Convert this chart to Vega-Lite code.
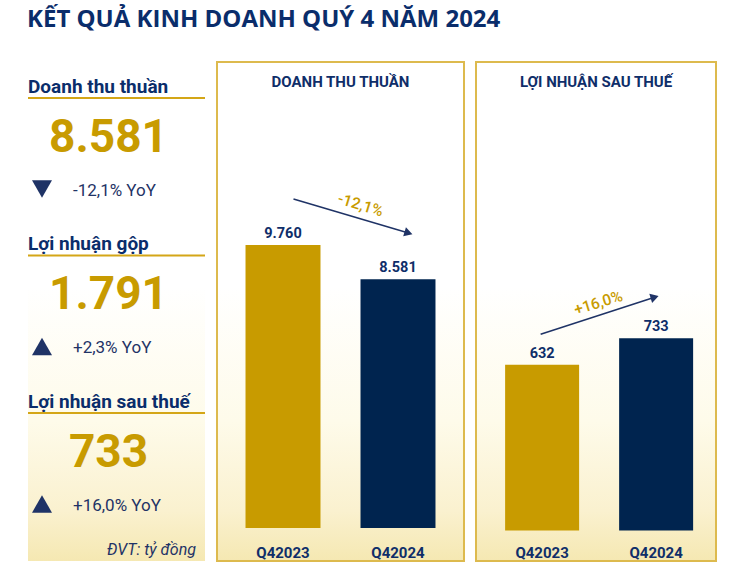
{
  "$schema": "https://vega.github.io/schema/vega-lite/v6.json",
  "background": "#ffffff",
  "padding": {"left": 27, "top": 8, "right": 0, "bottom": 0},
  "bounds": "flush",
  "spacing": 12,
  "title": {
    "text": "KẾT QUẢ KINH DOANH QUÝ 4 NĂM 2024",
    "anchor": "start",
    "font": "Open Sans",
    "fontSize": 24,
    "fontWeight": "bold",
    "color": "#0A2D6B",
    "offset": 29
  },
  "datasets": {
    "metrics": [
      {"metric": "Doanh thu thuần", "value": 8581, "yoy": "-12,1% YoY", "dir": "down"},
      {"metric": "Lợi nhuận gộp", "value": 1791, "yoy": "+2,3% YoY", "dir": "up"},
      {"metric": "Lợi nhuận sau thuế", "value": 733, "yoy": "+16,0% YoY", "dir": "up"}
    ],
    "note": [{"metric": "Lợi nhuận sau thuế", "note": "ĐVT: tỷ đồng"}],
    "revenue": [{"quarter": "Q42023", "value": 9760}, {"quarter": "Q42024", "value": 8581}],
    "profit": [{"quarter": "Q42023", "value": 632}, {"quarter": "Q42024", "value": 733}],
    "revenueArrow": [{"quarter": "Q42023", "y": 11345}, {"quarter": "Q42024", "y": 10172}],
    "profitArrow": [{"quarter": "Q42023", "y": 748}, {"quarter": "Q42024", "y": 889}],
    "revenueChange": [{"quarter": "Q42024", "y": 11138, "change": "-12,1%"}],
    "profitChange": [{"quarter": "Q42023", "y": 867, "change": "+16,0%"}]
  },
  "hconcat": [
    {
      "width": 177,
      "height": 499,
      "view": {
        "stroke": null,
        "fill": {"gradient": "linear", "x1": 0, "y1": 0, "x2": 0, "y2": 1, "stops": [{"offset": 0, "color": "#ffffff"}, {"offset": 0.45, "color": "#ffffff"}, {"offset": 0.72, "color": "#fefbea"}, {"offset": 0.9, "color": "#faf1cf"}, {"offset": 1, "color": "#f5e8b2"}]}
      },
      "data": {"name": "metrics"},
      "encoding": {
        "y": {"field": "metric", "type": "nominal", "sort": null, "axis": null,
          "scale": {"type": "point", "padding": 0.584, "align": 0.413, "domain": ["Doanh thu thuần", "Lợi nhuận gộp", "Lợi nhuận sau thuế"]}}
      },
      "layer": [
        {"mark": {"type": "rule", "color": "#D4A617", "strokeWidth": 2, "yOffset": -40}, "encoding": {}},
        {"mark": {"type": "text", "align": "left", "baseline": "middle", "dx": -88.5, "dy": -51, "font": "Roboto", "fontSize": 19, "fontWeight": "bold", "color": "#0A2D6B"},
          "encoding": {"text": {"field": "metric", "type": "nominal"}}},
        {"mark": {"type": "text", "align": "center", "baseline": "middle", "dx": -8, "font": "Roboto", "fontSize": 46, "fontWeight": "bold", "color": "#C89B00"},
          "encoding": {"text": {"field": "value", "type": "quantitative", "format": ",d"}}},
        {"mark": {"type": "point", "filled": true, "size": 400, "opacity": 1, "color": "#1F3366", "xOffset": -74.5, "yOffset": 51},
          "encoding": {"shape": {"field": "dir", "type": "nominal", "scale": {"domain": ["down", "up"], "range": ["triangle-down", "triangle-up"]}, "legend": null}}},
        {"mark": {"type": "text", "align": "left", "baseline": "middle", "dx": -43.5, "dy": 53, "font": "Roboto", "fontSize": 17, "color": "#1F3366"},
          "encoding": {"text": {"field": "yoy", "type": "nominal"}}},
        {"data": {"name": "note"},
          "mark": {"type": "text", "align": "right", "baseline": "middle", "dx": 79.5, "dy": 97, "font": "Roboto", "fontSize": 16, "fontStyle": "italic", "color": "#1F3366"},
          "encoding": {"text": {"field": "note", "type": "nominal"}}}
      ]
    },
    {
      "width": 247,
      "height": 499,
      "view": {
        "stroke": "#DDBA4E", "strokeWidth": 2,
        "fill": {"gradient": "linear", "x1": 0, "y1": 0, "x2": 0, "y2": 1, "stops": [{"offset": 0, "color": "#ffffff"}, {"offset": 0.45, "color": "#ffffff"}, {"offset": 0.72, "color": "#fefbea"}, {"offset": 0.9, "color": "#faf1cf"}, {"offset": 1, "color": "#f5e8b2"}]}
      },
      "title": {"text": "DOANH THU THUẦN", "font": "Roboto", "fontSize": 15, "fontWeight": "bold", "color": "#0F2E69", "offset": -28},
      "layer": [
        {"data": {"name": "revenue"}, "mark": {"type": "bar"},
          "encoding": {
            "x": {"field": "quarter", "type": "nominal", "scale": {"domain": ["Q42023", "Q42024"], "paddingInner": 0.348, "paddingOuter": 0.248},
              "axis": {"title": null, "domain": false, "ticks": false, "grid": false, "labelAngle": 0, "labelFont": "Roboto", "labelFontSize": 15, "labelFontWeight": "bold", "labelColor": "#0F2E69", "labelPadding": -16}},
            "y": {"field": "value", "type": "quantitative", "scale": {"domain": [-1138, 16070], "nice": false, "zero": false}, "axis": null},
            "y2": {"datum": 0},
            "color": {"field": "quarter", "type": "nominal", "scale": {"domain": ["Q42023", "Q42024"], "range": ["#C89B00", "#00244F"]}, "legend": null}
          }},
        {"data": {"name": "revenue"}, "mark": {"type": "text", "baseline": "alphabetic", "dy": -7, "font": "Roboto", "fontSize": 14.5, "fontWeight": "bold", "color": "#0F2E69"},
          "encoding": {
            "x": {"field": "quarter", "type": "nominal"},
            "y": {"field": "value", "type": "quantitative", "scale": {"domain": [-1138, 16070], "nice": false, "zero": false}},
            "text": {"field": "value", "type": "quantitative", "format": ",d"}
          }},
        {"data": {"name": "revenueArrow"}, "mark": {"type": "line", "color": "#1F3366", "strokeWidth": 1.5},
          "encoding": {
            "x": {"field": "quarter", "type": "nominal", "bandPosition": 0.64},
            "y": {"field": "y", "type": "quantitative", "scale": {"domain": [-1138, 16070], "nice": false, "zero": false}}
          }},
        {"data": {"name": "revenueArrow"}, "transform": [{"filter": "datum.quarter === 'Q42024'"}],
          "mark": {"type": "point", "shape": "triangle-right", "angle": 17, "filled": true, "size": 90, "opacity": 1, "color": "#1F3366"},
          "encoding": {
            "x": {"field": "quarter", "type": "nominal", "bandPosition": 0.64},
            "y": {"field": "y", "type": "quantitative", "scale": {"domain": [-1138, 16070], "nice": false, "zero": false}}
          }},
        {"data": {"name": "revenueChange"},
          "mark": {"type": "text", "angle": 17, "align": "center", "baseline": "middle", "font": "Roboto", "fontSize": 15.5, "fontWeight": 500, "color": "#C89B00"},
          "encoding": {
            "x": {"field": "quarter", "type": "nominal", "bandPosition": 0},
            "y": {"field": "y", "type": "quantitative", "scale": {"domain": [-1138, 16070], "nice": false, "zero": false}},
            "text": {"field": "change", "type": "nominal"}
          }}
      ]
    },
    {
      "width": 240,
      "height": 499,
      "view": {
        "stroke": "#DDBA4E", "strokeWidth": 2,
        "fill": {"gradient": "linear", "x1": 0, "y1": 0, "x2": 0, "y2": 1, "stops": [{"offset": 0, "color": "#ffffff"}, {"offset": 0.45, "color": "#ffffff"}, {"offset": 0.72, "color": "#fefbea"}, {"offset": 0.9, "color": "#faf1cf"}, {"offset": 1, "color": "#f5e8b2"}]}
      },
      "title": {"text": "LỢI NHUẬN SAU THUẾ", "font": "Roboto", "fontSize": 15, "fontWeight": "bold", "color": "#0F2E69", "offset": -28},
      "layer": [
        {"data": {"name": "profit"}, "mark": {"type": "bar"},
          "encoding": {
            "x": {"field": "quarter", "type": "nominal", "scale": {"domain": ["Q42023", "Q42024"], "paddingInner": 0.351, "paddingOuter": 0.228, "align": 0.56},
              "axis": {"title": null, "domain": false, "ticks": false, "grid": false, "labelAngle": 0, "labelFont": "Roboto", "labelFontSize": 15, "labelFontWeight": "bold", "labelColor": "#0F2E69", "labelPadding": -16}},
            "y": {"field": "value", "type": "quantitative", "scale": {"domain": [-116, 1785], "nice": false, "zero": false}, "axis": null},
            "y2": {"datum": 0},
            "color": {"field": "quarter", "type": "nominal", "scale": {"domain": ["Q42023", "Q42024"], "range": ["#C89B00", "#00244F"]}, "legend": null}
          }},
        {"data": {"name": "profit"}, "mark": {"type": "text", "baseline": "alphabetic", "dy": -7, "font": "Roboto", "fontSize": 14.5, "fontWeight": "bold", "color": "#0F2E69"},
          "encoding": {
            "x": {"field": "quarter", "type": "nominal"},
            "y": {"field": "value", "type": "quantitative", "scale": {"domain": [-116, 1785], "nice": false, "zero": false}},
            "text": {"field": "value", "type": "quantitative", "format": ",d"}
          }},
        {"data": {"name": "profitArrow"}, "mark": {"type": "line", "color": "#1F3366", "strokeWidth": 1.5},
          "encoding": {
            "x": {"field": "quarter", "type": "nominal", "bandPosition": 0.48},
            "y": {"field": "y", "type": "quantitative", "scale": {"domain": [-116, 1785], "nice": false, "zero": false}}
          }},
        {"data": {"name": "profitArrow"}, "transform": [{"filter": "datum.quarter === 'Q42024'"}],
          "mark": {"type": "point", "shape": "triangle-right", "angle": 343, "filled": true, "size": 90, "opacity": 1, "color": "#1F3366"},
          "encoding": {
            "x": {"field": "quarter", "type": "nominal", "bandPosition": 0.48},
            "y": {"field": "y", "type": "quantitative", "scale": {"domain": [-116, 1785], "nice": false, "zero": false}}
          }},
        {"data": {"name": "profitChange"},
          "mark": {"type": "text", "angle": 343, "align": "center", "baseline": "middle", "font": "Roboto", "fontSize": 15.5, "fontWeight": 500, "color": "#C89B00"},
          "encoding": {
            "x": {"field": "quarter", "type": "nominal", "bandPosition": 1.26},
            "y": {"field": "y", "type": "quantitative", "scale": {"domain": [-116, 1785], "nice": false, "zero": false}},
            "text": {"field": "change", "type": "nominal"}
          }}
      ]
    }
  ],
  "config": {
    "locale": {"number": {"decimal": ",", "thousands": ".", "grouping": [3], "currency": ["", " ₫"]}},
    "view": {"stroke": null},
    "axis": {"grid": false}
  }
}
